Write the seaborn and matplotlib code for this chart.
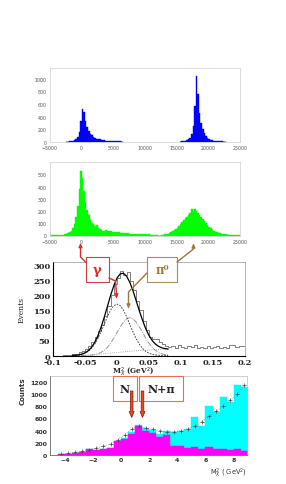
import numpy as np
import pandas as pd
import seaborn as sns
import matplotlib
matplotlib.use("Agg")
import matplotlib.pyplot as plt
from matplotlib.patches import Rectangle, FancyArrow
from matplotlib.ticker import MultipleLocator

# ---------------- data ----------------
# panel 1 (blue) : counts per 250-wide bin
blue_bin = 250
blue_left_start = -2500
blue_left = [2, 3, 5, 8, 12, 20, 40, 80, 160, 330, 520, 470, 330, 240, 170, 130,
             100, 80, 60, 50, 42, 35, 30, 26, 22, 19, 16, 14, 12, 11, 10, 9, 8, 6, 4, 2]
blue_right_start = 15500
blue_right = [3, 6, 10, 18, 30, 45, 65, 120, 250, 560, 1050, 760, 460, 300, 200,
              140, 95, 65, 45, 32, 24, 18, 14, 11, 8, 6, 4, 3, 2]

# panel 2 (green) : counts per 250-wide bin from -5000
green_bin = 250
green_start = -5000
green = [1, 1, 2, 2, 3, 4, 5, 6,
         8, 10, 14, 20, 28, 40, 60, 95, 150, 240, 380, 530, 470, 360, 270, 210,
         165, 130, 105, 90, 75, 85, 60, 50, 45, 40, 38, 42, 35, 38, 33, 30,
         32, 28, 25, 27, 22, 20, 22, 18, 17, 19, 15, 14, 15, 12, 13, 11,
         12, 10, 11, 9, 10, 8, 9, 8, 7, 8, 6, 5, 0, 0, 6, 8,
         10, 12, 15, 20, 28, 35, 45, 55, 65, 80, 95, 110, 125, 140, 150, 170,
         185, 220, 190, 215, 200, 180, 165, 150, 135, 120, 100, 85, 70, 58, 48, 40,
         32, 26, 22, 18, 15, 12, 10, 9, 8, 7, 6, 6, 5, 5, 4, 3]

# panel 3 (fit) : histogram per 0.005 bin from -0.1
fit_bin = 0.005
fit_start = -0.1
fit_hist = [0, 0, 0, 2, 3, 2, 5, 6, 10, 15, 22, 30, 45, 62, 80, 100, 130, 165, 200, 235,
            255, 280, 265, 275, 245, 215, 180, 150, 115, 85, 60, 55, 55, 45, 38, 32, 28, 30, 26, 34,
            28, 25, 30, 27, 34, 26, 28, 24, 30, 26, 28, 32, 25, 27, 24, 34, 36, 28, 33, 30]
curve_x = [-0.07, -0.065, -0.06, -0.055, -0.05, -0.045, -0.04, -0.035, -0.03, -0.025,
           -0.02, -0.015, -0.01, -0.005, 0.0, 0.005, 0.01, 0.015, 0.02, 0.025, 0.03,
           0.035, 0.04, 0.045, 0.05, 0.055, 0.06, 0.065, 0.07, 0.075, 0.08]
gamma_y = [0.4, 0.9, 1.9, 3.9, 7.5, 13.5, 23, 36.8, 55.2, 77.9, 103, 128, 150, 164.8, 170,
           164.8, 150, 128, 103, 77.9, 55.2, 36.8, 23, 13.5, 7.5, 3.9, 1.9, 0.9, 0.4, 0.2, 0.1]
pi0_y = [0, 0, 0, 0, 0.3, 0.7, 1.4, 2.9, 5.5, 10, 17, 27, 40.6, 57, 76, 94, 110, 121, 125,
         121, 110, 94, 76, 57, 40.6, 27, 17, 10, 5.5, 2.9, 1.4]
bg_y = [0, 0, 0, 0.5, 1, 1.5, 2, 3, 4, 5, 6, 7, 8, 9, 10, 11, 12, 13, 14, 14.8, 15.5,
        16.2, 17, 17.5, 18, 18.5, 19, 19.2, 19.5, 19.8, 20]
total_y = [0.4, 0.9, 1.9, 4.4, 8.8, 15.7, 26.4, 42.7, 64.7, 92.9, 126, 162, 198.6, 230.8,
           256, 269.8, 272, 262, 242, 213.7, 180.7, 147, 116, 88, 66.1, 49.4, 37.9, 30.2,
           25.4, 22.9, 21.5]

# panel 4 : counts per 0.5 bin from -4.5
mm_bin = 0.5
mm_start = -4.5
mm_magenta = [5, 15, 25, 40, 90, 70, 100, 110, 220, 260, 340, 480, 390, 360, 300, 330,
              150, 140, 110, 120, 90, 120, 90, 100, 80, 100, 60]
mm_total = [5, 15, 25, 40, 90, 70, 100, 115, 230, 280, 380, 490, 440, 410, 340, 400,
            380, 390, 420, 620, 480, 800, 700, 960, 870, 1160, 1130]
pts_x = [-4.25, -3.75, -3.25, -2.75, -2.25, -1.75, -1.25, -0.75, -0.25, 0.25, 0.75, 1.25,
         1.75, 2.25, 2.75, 3.25, 3.75, 4.25, 4.75, 5.25, 5.75, 6.25, 6.75, 7.25, 7.75,
         8.25, 8.75]
pts_y = [10, 20, 40, 60, 80, 110, 140, 180, 250, 330, 420, 480, 440, 420, 400, 380, 380,
         400, 430, 470, 550, 640, 720, 800, 900, 1000, 1150]

# ---------------- style ----------------
sns.set_style("white")
plt.rcParams["font.family"] = ["DejaVu Sans"]

W, H = 286, 485
fig = plt.figure(figsize=(W / 100, H / 100), dpi=100)


def rect(l, t, r, b):
    return [l / W, 1 - b / H, (r - l) / W, (b - t) / H]


def hist(ax, start, width, counts, **kw):
    counts = np.asarray(counts, float)
    edges = start + width * np.arange(len(counts) + 1)
    df = pd.DataFrame({"x": edges[:-1] + width / 2, "w": counts})
    sns.histplot(data=df, x="x", weights="w", bins=[float(e) for e in edges], ax=ax, **kw)


def filled(ax, start, width, counts, color):
    hist(ax, start, width, counts, element="step", fill=True, color=color,
         alpha=1, edgecolor=color, linewidth=0.3)


def light_panel(ax, ymax, ystep):
    ax.set_xlim(-5000, 25000)
    ax.set_ylim(0, ymax)
    ax.set_xticks(np.arange(-5000, 25001, 5000))
    ax.set_yticks(np.arange(0, ymax, ystep))
    ax.tick_params(labelsize=3.4, colors="#555", length=1.2, width=0.4, pad=1)
    for s in ax.spines.values():
        s.set_color("#cfcfcf")
        s.set_linewidth(0.5)
    ax.set_xlabel("")
    ax.set_ylabel("")


# panel 1
ax1 = fig.add_axes(rect(50, 68.5, 240, 142.7))
filled(ax1, blue_left_start, blue_bin, blue_left, "#0000ff")
filled(ax1, blue_right_start, blue_bin, blue_right, "#0000ff")
light_panel(ax1, 1180, 200)

# panel 2
ax2 = fig.add_axes(rect(50, 163, 240, 236.5))
filled(ax2, green_start, green_bin, green, "#00ff00")
light_panel(ax2, 600, 100)

# panel 3
serif = ["DejaVu Serif"]
ax3 = fig.add_axes(rect(53, 263, 245, 356.5))
hist(ax3, fit_start, fit_bin, fit_hist, element="step", fill=False,
     color="#808080", linewidth=0.7)
sns.lineplot(x=curve_x, y=bg_y, ax=ax3, color="#909090", lw=0.6, linestyle=":")
sns.lineplot(x=curve_x, y=pi0_y, ax=ax3, color="#8a8a8a", lw=0.6, linestyle="-.")
sns.lineplot(x=curve_x, y=gamma_y, ax=ax3, color="#333333", lw=0.6, linestyle=(0, (2, 1.5)))
sns.lineplot(x=curve_x, y=total_y, ax=ax3, color="black", lw=0.9)
ax3.set_xlim(-0.1, 0.2)
ax3.set_ylim(0, 309)
ax3.set_xticks([-0.1, -0.05, 0, 0.05, 0.1, 0.15, 0.2])
ax3.set_xticklabels(["-0.1", "-0.05", "0", "0.05", "0.1", "0.15", "0.2"])
ax3.set_yticks(np.arange(0, 301, 50))
ax3.xaxis.set_minor_locator(MultipleLocator(0.01))
ax3.yaxis.set_minor_locator(MultipleLocator(10))
ax3.tick_params(which="both", direction="in", width=0.5)
ax3.tick_params(which="major", length=3, labelsize=6)
ax3.tick_params(axis="x", which="major", pad=1.5)
ax3.tick_params(axis="y", which="major", pad=2)
ax3.tick_params(which="minor", length=1.5)
for lab in ax3.get_xticklabels() + ax3.get_yticklabels():
    lab.set_fontfamily(serif)
    lab.set_fontweight("bold")
for k in ["left", "bottom"]:
    ax3.spines[k].set_color("black")
    ax3.spines[k].set_linewidth(0.8)
for k in ["top", "right"]:
    ax3.spines[k].set_color("#999")
    ax3.spines[k].set_linewidth(0.5)
ax3.set_ylabel("Events", family=serif, fontsize=5.5)
ax3.yaxis.set_label_coords(-0.145, 0.5)
ax3.set_xlabel(r"M$_X^2$ (GeV$^2$)", family=serif, fontsize=5.2, fontweight="bold")
ax3.xaxis.set_label_coords(0.42, -0.1)

# panel 4
ax4 = fig.add_axes(rect(50, 377, 247, 455.7))
filled(ax4, mm_start, mm_bin, mm_total, "#00ffff")
filled(ax4, mm_start, mm_bin, mm_magenta, "#ff00ff")
sns.lineplot(x=pts_x, y=pts_y, ax=ax4, color="#777", lw=0.5, linestyle=":",
             marker="+", markersize=3, markeredgecolor="#444", markeredgewidth=0.5)
ax4.set_xlim(-5.05, 8.95)
ax4.set_ylim(0, 1304)
ax4.set_xticks(np.arange(-4, 9, 2))
ax4.set_yticks(np.arange(0, 1201, 200))
ax4.xaxis.set_minor_locator(MultipleLocator(0.5))
ax4.yaxis.set_minor_locator(MultipleLocator(50))
ax4.tick_params(which="both", direction="in", width=0.4, colors="#555")
ax4.tick_params(which="major", length=2.5, labelsize=4.5, pad=2)
ax4.tick_params(which="minor", length=1.2)
for lab in ax4.get_xticklabels() + ax4.get_yticklabels():
    lab.set_fontweight("bold")
    lab.set_color("#333")
for k in ["left", "bottom"]:
    ax4.spines[k].set_color("#666")
    ax4.spines[k].set_linewidth(0.6)
for k in ["top", "right"]:
    ax4.spines[k].set_color("#bbb")
    ax4.spines[k].set_linewidth(0.5)
ax4.set_ylabel("Counts", fontsize=5, fontweight="bold", loc="top", labelpad=3, color="#333")
ax4.set_xlabel(r"M$_X^2$ ( GeV$^2$)", fontsize=4.8, loc="right", labelpad=2, color="#333")

# ---------------- annotation overlay ----------------
ov = fig.add_axes([0, 0, 1, 1])
ov.set_xlim(0, W)
ov.set_ylim(H, 0)
ov.axis("off")
ov.set_zorder(10)
ov.patch.set_alpha(0)

red = "#e02828"
brown = "#a4753c"

# gamma box and connectors
ov.add_patch(Rectangle((86, 258), 23, 25, fc="white", ec="#d04040", lw=0.8))
ov.text(97.5, 271, "γ", color=red, fontsize=9.5, fontweight="bold", family=serif,
        ha="center", va="center")
ov.plot([86, 80.5, 80.5], [263.5, 258, 249], color=red, lw=1)
ov.annotate("", xy=(80.5, 241.5), xytext=(80.5, 250),
            arrowprops=dict(arrowstyle="-|>", color=red, lw=1, mutation_scale=5))
ov.plot([109, 115.5, 116.5], [279, 282, 295], color=red, lw=1)
ov.annotate("", xy=(116.5, 302), xytext=(116.5, 294),
            arrowprops=dict(arrowstyle="-|>", color=red, lw=1, mutation_scale=5))

# pi0 box and connectors
ov.add_patch(Rectangle((147, 258), 30, 25, fc="white", ec="#b08a5a", lw=0.8))
ov.text(162, 271, "π⁰", color=brown, fontsize=8.5, fontweight="bold", family=serif,
        ha="center", va="center")
ov.plot([177, 193.5, 193.5], [263, 250, 249], color=brown, lw=1)
ov.annotate("", xy=(193.5, 242), xytext=(193.5, 250),
            arrowprops=dict(arrowstyle="-|>", color=brown, lw=1, mutation_scale=5))
ov.plot([147, 128.5, 128.5], [274, 293, 305], color=brown, lw=1)
ov.annotate("", xy=(128.5, 312), xytext=(128.5, 304),
            arrowprops=dict(arrowstyle="-|>", color=brown, lw=1, mutation_scale=5))

# N / N+pi boxes with arrows
ov.add_patch(Rectangle((113, 377), 24, 25, fc="white", ec="#e8704a", lw=0.8))
ov.add_patch(Rectangle((139, 377), 44, 25, fc="white", ec="#e8704a", lw=0.8))
ov.text(124.5, 389.5, "N", fontsize=8, fontweight="bold", family=serif,
        ha="center", va="center")
ov.text(161.5, 389.5, "N+π", fontsize=8, fontweight="bold", family=serif,
        ha="center", va="center")
for xa in (131.7, 142.5):
    ov.add_patch(FancyArrow(xa, 392, 0, 26.5, width=2.6, head_width=5, head_length=6,
                            length_includes_head=True, fc="#e84a1c", ec="#7a1a0a", lw=0.5))

fig.savefig("out.png", dpi=100)
